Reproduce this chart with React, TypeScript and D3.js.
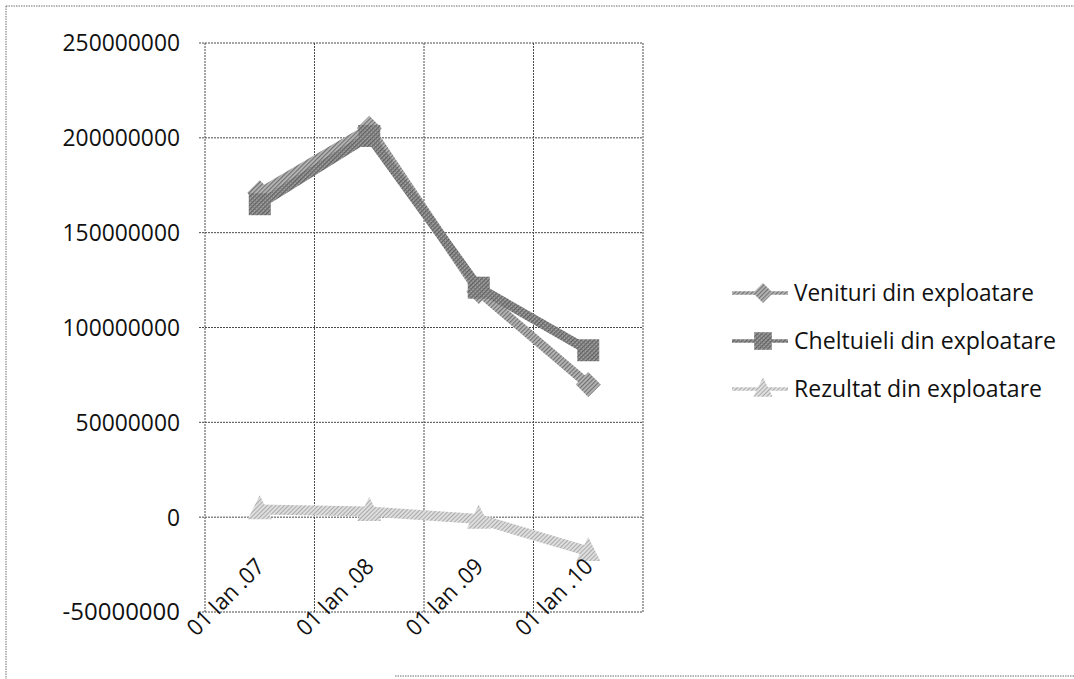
import React from "react";
import * as d3 from "d3";

// Operating figures (lei) at the start of each year
const categories: string[] = ["01 Ian .07", "01 Ian .08", "01 Ian .09", "01 Ian .10"];
const venituri: number[] = [171000000, 205000000, 119000000, 70000000];
const cheltuieli: number[] = [165000000, 201000000, 121000000, 88000000];
const rezultat: number[] = [4000000, 3000000, -1000000, -18000000];
const yTicks: number[] = [-50000000, 0, 50000000, 100000000, 150000000, 200000000, 250000000];
const seriesNames: string[] = ["Venituri din exploatare", "Cheltuieli din exploatare", "Rezultat din exploatare"];

const W = 1074;
const H = 679;
const FONT = "'Open Sans', 'Noto Sans', sans-serif";

const x = d3.scaleBand<string>().domain(categories).range([205, 643]).padding(0);
const y = d3.scaleLinear().domain([-50000000, 250000000]).range([612, 43]);

type Marker = "diamond" | "square" | "triangle";

const series = [
  { name: seriesNames[0], values: venituri, fill: "url(#hatchMid)", marker: "diamond" as Marker, width: 9.5, size: 12.5 },
  { name: seriesNames[1], values: cheltuieli, fill: "url(#hatchDark)", marker: "square" as Marker, width: 9.5, size: 11 },
  { name: seriesNames[2], values: rezultat, fill: "url(#hatchLight)", marker: "triangle" as Marker, width: 10, size: 12 },
];

function markerPath(kind: Marker, cx: number, cy: number, r: number): string {
  if (kind === "diamond") {
    return `M${cx},${cy - r}L${cx + r},${cy}L${cx},${cy + r}L${cx - r},${cy}Z`;
  }
  if (kind === "square") {
    return `M${cx - r},${cy - r}H${cx + r}V${cy + r}H${cx - r}Z`;
  }
  return `M${cx},${cy - r * 1.2}L${cx + r},${cy + r * 0.8}L${cx - r},${cy + r * 0.8}Z`;
}

export default function App() {
  const cx = (c: string) => (x(c) as number) + x.bandwidth() / 2;
  const line = d3
    .line<number>()
    .x((_, i) => cx(categories[i]))
    .y((v) => y(v));

  const [y0, y1] = y.range();
  const edges = [...categories.map((c) => x(c) as number), x.range()[1]];
  const grid = "#4a4a4a";

  return (
    <svg
      width={W}
      height={H}
      viewBox={`0 0 ${W} ${H}`}
      style={{ position: "absolute", left: 0, top: 0, background: "#fff" }}
      fontFamily={FONT}
    >
      <defs>
        <pattern id="hatchMid" width="3" height="3" patternUnits="userSpaceOnUse" patternTransform="rotate(45)">
          <rect width="3" height="3" fill="#b8b8b8" />
          <rect width="1.2" height="3" fill="#707070" />
        </pattern>
        <pattern id="hatchDark" width="3" height="3" patternUnits="userSpaceOnUse" patternTransform="rotate(45)">
          <rect width="3" height="3" fill="#a4a4a4" />
          <rect width="1.3" height="3" fill="#5a5a5a" />
          <rect width="3" height="0.8" fill="#747474" />
        </pattern>
        <pattern id="hatchLight" width="3" height="3" patternUnits="userSpaceOnUse" patternTransform="rotate(45)">
          <rect width="3" height="3" fill="#dedede" />
          <rect width="1" height="3" fill="#aaaaaa" />
        </pattern>
      </defs>

      {/* chart frame */}
      <g stroke="#6d6d6d" strokeWidth={1} strokeDasharray="1.5 1" fill="none">
        <line x1={6} y1={6} x2={W} y2={6} />
        <line x1={6} y1={6} x2={6} y2={H} />
        <line x1={395} y1={676} x2={W} y2={676} />
      </g>

      {/* gridlines */}
      <g stroke={grid} strokeWidth={1} strokeDasharray="2 1" fill="none">
        {yTicks.map((t) => (
          <line key={`h${t}`} x1={199} x2={x.range()[1]} y1={y(t)} y2={y(t)} />
        ))}
        {edges.map((e, i) => (
          <line key={`v${i}`} x1={e} x2={e} y1={y1} y2={y0} />
        ))}
      </g>

      {/* value axis labels */}
      <g fontSize={23.5} fill="#111" textAnchor="end">
        {yTicks.map((t) => (
          <text
            key={`yl${t}`}
            x={180}
            y={y(t)}
            dy="0.36em"
            textLength={String(t).length * 13.05}
            lengthAdjust="spacingAndGlyphs"
          >
            {String(t)}
          </text>
        ))}
      </g>

      {/* series */}
      {series.map((s) => (
        <g key={s.name}>
          <path d={line(s.values) || ""} fill="none" stroke={s.fill} strokeWidth={s.width} strokeLinejoin="round" />
          {s.values.map((v, i) => (
            <path key={i} d={markerPath(s.marker, cx(categories[i]), y(v), s.size)} fill={s.fill} />
          ))}
        </g>
      ))}

      {/* category labels */}
      <g fontSize={23} fill="#111" textAnchor="end">
        {categories.map((c) => {
          const ax = cx(c) + 6;
          const ay = y0 - 44;
          return (
            <text
              key={c}
              x={ax}
              y={ay}
              transform={`rotate(-45 ${ax} ${ay})`}
              textLength={98}
              lengthAdjust="spacingAndGlyphs"
            >
              {c}
            </text>
          );
        })}
      </g>

      {/* legend */}
      <g>
        {series.map((s, i) => {
          const ly = 293 + i * 48;
          return (
            <g key={`lg${s.name}`}>
              <line x1={732} x2={788} y1={ly} y2={ly} stroke={s.fill} strokeWidth={3.5} />
              <path d={markerPath(s.marker, 763, ly, s.size * 0.8)} fill={s.fill} />
              <text
                x={794}
                y={ly}
                dy="0.36em"
                fontSize={23}
                fill="#111"
                textLength={[240, 262, 248][i]}
                lengthAdjust="spacingAndGlyphs"
              >
                {s.name}
              </text>
            </g>
          );
        })}
      </g>
    </svg>
  );
}
